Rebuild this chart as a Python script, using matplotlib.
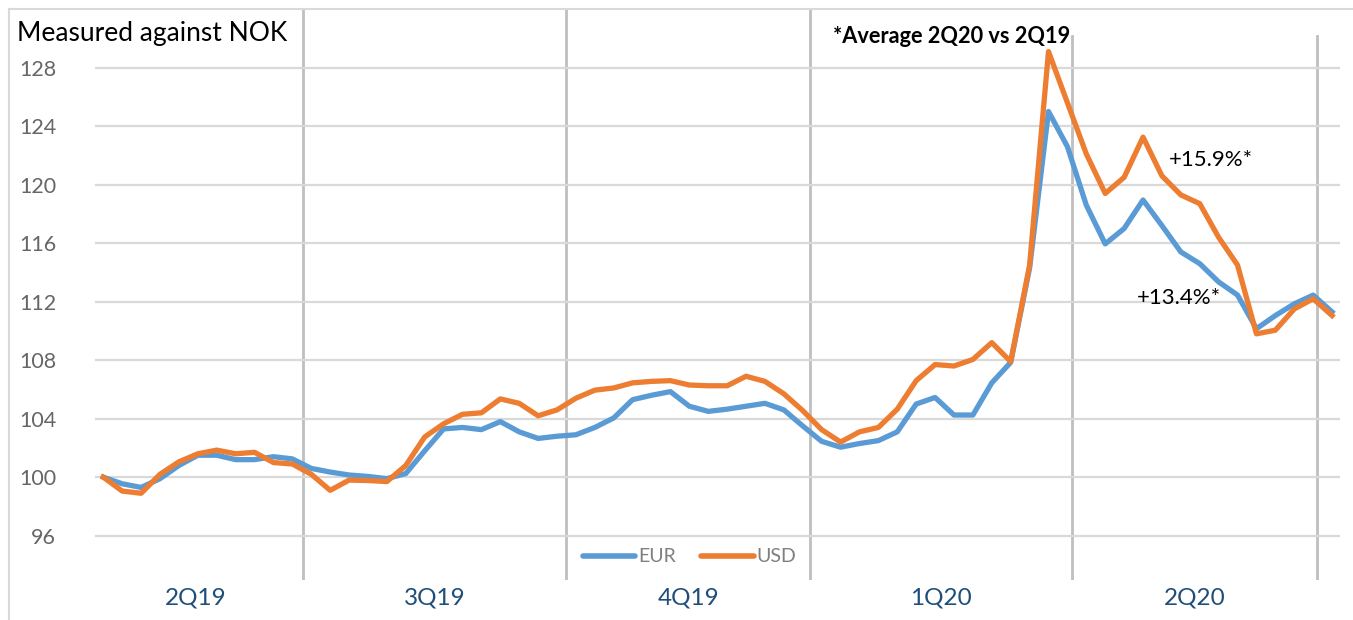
import matplotlib
matplotlib.use("Agg")
import matplotlib.pyplot as plt
from matplotlib.lines import Line2D

plt.rcParams['font.family'] = ['Lato', 'DejaVu Sans']

# ---- data ----
eur = [100.0, 99.55, 99.3, 99.9, 100.8, 101.5, 101.5, 101.2, 101.2, 101.4,
       101.25, 100.6, 100.35, 100.15, 100.05, 99.9, 100.25, 101.8, 103.3, 103.4,
       103.25, 103.8, 103.1, 102.65, 102.8, 102.9, 103.4, 104.05, 105.3, 105.6,
       105.85, 104.85, 104.5, 104.65, 104.85, 105.05, 104.6, 103.5, 102.45, 102.05,
       102.3, 102.5, 103.1, 105.0, 105.45, 104.25, 104.25, 106.45, 107.85, 114.3,
       125.0, 122.6, 118.6, 115.95, 117.0, 118.95, 117.2, 115.4, 114.6, 113.35,
       112.45, 110.15, 111.05, 111.85, 112.45, 111.3]
usd = [100.0, 99.05, 98.9, 100.2, 101.05, 101.6, 101.85, 101.6, 101.7, 101.0,
       100.9, 100.2, 99.1, 99.8, 99.77, 99.7, 100.8, 102.75, 103.65, 104.3,
       104.4, 105.35, 105.05, 104.2, 104.6, 105.4, 105.95, 106.1, 106.45, 106.55,
       106.6, 106.3, 106.25, 106.25, 106.9, 106.55, 105.7, 104.55, 103.25, 102.4,
       103.1, 103.4, 104.65, 106.6, 107.7, 107.6, 108.05, 109.2, 107.9, 114.5,
       129.1, 125.6, 122.1, 119.4, 120.5, 123.25, 120.6, 119.3, 118.7, 116.4,
       114.5, 109.8, 110.05, 111.5, 112.2, 111.05]
quarters = ['2Q19', '3Q19', '4Q19', '1Q20', '2Q20']
quarter_bounds = [-0.85, 10.57, 24.48, 37.39, 51.25, 64.22]
yticks = [96, 100, 104, 108, 112, 116, 120, 124, 128]
ann_eur = '+13.4%*'
ann_usd = '+15.9%*'
note = '*Average 2Q20 vs 2Q19'
title = 'Measured against NOK'

W, H = 1353, 620
fig = plt.figure(figsize=(W / 100, H / 100), dpi=100)
L, R, T, B = 95, 1340, 9, 580
ax = fig.add_axes([L / W, 1 - B / H, (R - L) / W, (B - T) / H])

x = list(range(len(eur)))
blue = '#5B9BD5'
orange = '#ED7D31'
ax.plot(x, eur, color=blue, lw=3.8, solid_joinstyle='round', zorder=3, label='EUR')
ax.plot(x, usd, color=orange, lw=3.8, solid_joinstyle='round', zorder=4, label='USD')

ax.set_xlim(-0.44, 65.42)
ax.set_ylim(92.97, 132.01)
ax.set_yticks(yticks)
ax.set_yticklabels([str(v) for v in yticks], color='#666666', fontsize=15.5)
ax.tick_params(axis='y', length=0, pad=28)
ax.set_xticks([])
ax.grid(axis='y', color='#D9D9D9', lw=1.6, zorder=0)
for s in ax.spines.values():
    s.set_visible(False)

# quarter separators
top_frac = (B - 36) / (B - T)
for i, b in enumerate(quarter_bounds[1:]):
    ax.axvline(b, ymin=0, ymax=1 if i < 3 else top_frac, color='#BFBFBF', lw=2, zorder=1)

# quarter labels
for i, q in enumerate(quarters):
    xc = (quarter_bounds[i] + quarter_bounds[i + 1]) / 2
    ax.text(xc, -0.014, q, transform=ax.get_xaxis_transform(), ha='center', va='top',
            color='#1F4E79', fontsize=17.5)

# annotations
ax.text(58.6, 121.69, ann_usd, ha='center', va='center', fontsize=16, color='black')
ax.text(56.9, 112.25, ann_eur, ha='center', va='center', fontsize=16, color='black')
ax.text(44.86, 130.1, note, ha='center', va='center', fontsize=15.7, color='black',
        fontweight='bold', zorder=6)

fig.text(17 / W, 1 - 33 / H, title, ha='left', va='center', fontsize=19, color='black')

# legend
leg = ax.legend(loc='center', bbox_to_anchor=(0.4775, (B - 557) / (B - T)), ncol=2,
                frameon=False, fontsize=14, handlelength=2.7, handletextpad=0.15,
                columnspacing=1.3)
for t in leg.get_texts():
    t.set_color('#7F7F7F')
for h in leg.get_lines():
    h.set_linewidth(4)
    h.set_solid_capstyle('round')

# outer frame (top and left edges visible)
fig.add_artist(Line2D([9 / W, 1], [1 - 9 / H, 1 - 9 / H], color='#D9D9D9', lw=1.5))
fig.add_artist(Line2D([9 / W, 9 / W], [0, 1 - 9 / H], color='#D9D9D9', lw=1.5))

fig.savefig('out.png', dpi=100)
